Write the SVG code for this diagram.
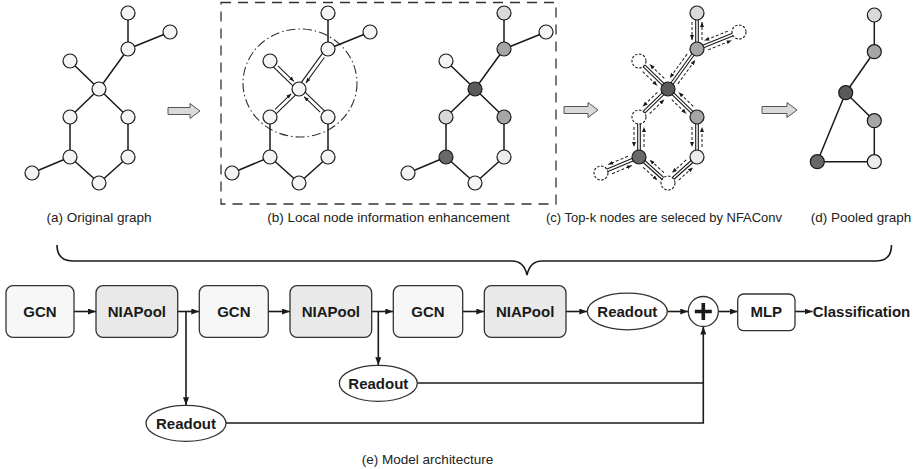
<svg xmlns="http://www.w3.org/2000/svg" width="919" height="469" viewBox="0 0 919 469">
<defs>
<style>
.e{stroke:#1a1a1a;stroke-width:1.5;fill:none}
.rl{stroke:#1a1a1a;stroke-width:1.1;fill:none}
.da{stroke:#1a1a1a;stroke-width:1;stroke-dasharray:3 2;fill:none}
.sa{stroke:#1a1a1a;stroke-width:1;fill:none}
.n{stroke:#1a1a1a;stroke-width:1.2}
.nd{stroke:#1a1a1a;stroke-width:1.1;stroke-dasharray:2.5 1.6;fill:#fff}
.w{fill:#f5f5f5}.l{fill:#d9d9d9}.m{fill:#a6a6a6}.dk{fill:#5a5a5a}.d2{fill:#686868}.vl{fill:#ececec}
.cap{font-family:"Liberation Sans",Arial,sans-serif;font-size:13.5px;fill:#222;text-anchor:middle}
.lb{font-family:"Liberation Sans",Arial,sans-serif;font-size:15px;font-weight:bold;fill:#1a1a1a;text-anchor:middle}
.box{stroke:#333;stroke-width:1.3}
.c{stroke:#1a1a1a;stroke-width:1.6;fill:none}
.blk{fill:#d9d9d9;stroke:#555;stroke-width:1}
</style>
<marker id="ah" markerUnits="userSpaceOnUse" markerWidth="8" markerHeight="6" refX="8" refY="3" orient="auto"><path d="M0,0 L8,3 L0,6 z" fill="#1a1a1a"/></marker>
<marker id="sm" markerUnits="userSpaceOnUse" markerWidth="5" markerHeight="4" refX="5" refY="2" orient="auto"><path d="M0,0 L5,2 L0,4 z" fill="#1a1a1a"/></marker>
</defs>
<rect width="919" height="469" fill="#fff"/>

<!-- (a) Original graph -->
<g id="graph-a">
<g class="e">
<line x1="128" y1="13" x2="128" y2="49"/><line x1="170" y1="32" x2="128" y2="49"/><line x1="128" y1="49" x2="99" y2="89"/>
<line x1="70" y1="61" x2="99" y2="89"/><line x1="99" y1="89" x2="70" y2="117"/><line x1="99" y1="89" x2="128" y2="117"/>
<line x1="70" y1="117" x2="70" y2="157"/><line x1="128" y1="117" x2="128" y2="157"/><line x1="70" y1="157" x2="99" y2="183"/>
<line x1="128" y1="157" x2="99" y2="183"/><line x1="70" y1="157" x2="32" y2="173"/>
</g>
<g class="n w">
<circle id="a-t" cx="128" cy="13" r="7"/><circle id="a-r" cx="170" cy="32" r="7"/><circle id="a-u" cx="128" cy="49" r="7"/>
<circle id="a-lf" cx="70" cy="61" r="7"/><circle id="a-c" cx="99" cy="89" r="7"/><circle id="a-lm" cx="70" cy="117" r="7"/>
<circle id="a-rm" cx="128" cy="117" r="7"/><circle id="a-ll" cx="70" cy="157" r="7"/><circle id="a-rl" cx="128" cy="157" r="7"/>
<circle id="a-b" cx="99" cy="183" r="7"/><circle id="a-fl" cx="32" cy="173" r="7"/>
</g>
</g>

<!-- block arrows -->
<path class="blk" d="M168,107.5 H190 V103.5 L200,111 L190,118.5 V114.5 H168 Z"/>
<path class="blk" d="M564,106.5 H588 V102.5 L598,110 L588,117.5 V113.5 H564 Z"/>
<path class="blk" d="M762,106.5 H787 V102.5 L797,110 L787,117.5 V113.5 H762 Z"/>

<!-- (b) frame -->
<rect x="221" y="2.5" width="335" height="201.5" fill="none" stroke="#333" stroke-width="1.3" stroke-dasharray="10 7"/>
<ellipse cx="300" cy="83" rx="57" ry="54" fill="none" stroke="#333" stroke-width="1.1" stroke-dasharray="9 3 1.5 3"/>

<!-- (b) left graph -->
<g id="graph-b1" transform="translate(200,0)">
<g class="e">
<line x1="128" y1="13" x2="128" y2="49"/><line x1="170" y1="32" x2="128" y2="49"/>
<line x1="70" y1="117" x2="70" y2="157"/><line x1="128" y1="117" x2="128" y2="157"/><line x1="70" y1="157" x2="99" y2="183"/>
<line x1="128" y1="157" x2="99" y2="183"/><line x1="70" y1="157" x2="32" y2="173"/>
</g>
<g transform="translate(70,61) rotate(43.99)"><line class="rl" x1="0" y1="2" x2="40.3" y2="2"/><line class="sa" x1="9" y1="-2" x2="31.3" y2="-2" marker-end="url(#sm)"/></g>
<g transform="translate(128,49) rotate(125.94)"><line class="rl" x1="0" y1="2" x2="49.4" y2="2"/><line class="sa" x1="9" y1="-2" x2="40.4" y2="-2" marker-end="url(#sm)"/></g>
<g transform="translate(70,117) rotate(-43.99)"><line class="rl" x1="0" y1="2" x2="40.3" y2="2"/><line class="sa" x1="9" y1="-2" x2="31.3" y2="-2" marker-end="url(#sm)"/></g>
<g transform="translate(128,117) rotate(-136.01)"><line class="rl" x1="0" y1="2" x2="40.3" y2="2"/><line class="sa" x1="9" y1="-2" x2="31.3" y2="-2" marker-end="url(#sm)"/></g>
<g class="n w">
<circle id="b1-t" cx="128" cy="13" r="7"/><circle id="b1-r" cx="170" cy="32" r="7"/><circle id="b1-u" cx="128" cy="49" r="7"/>
<circle id="b1-lf" cx="70" cy="61" r="7"/><circle id="b1-c" cx="99" cy="89" r="7"/><circle id="b1-lm" cx="70" cy="117" r="7"/>
<circle id="b1-rm" cx="128" cy="117" r="7"/><circle id="b1-ll" cx="70" cy="157" r="7"/><circle id="b1-rl" cx="128" cy="157" r="7"/>
<circle id="b1-b" cx="99" cy="183" r="7"/><circle id="b1-fl" cx="32" cy="173" r="7"/>
</g>
</g>

<!-- (b) right graph -->
<g id="graph-b2" transform="translate(376,0)">
<g class="e">
<line x1="128" y1="13" x2="128" y2="49"/><line x1="170" y1="32" x2="128" y2="49"/><line x1="128" y1="49" x2="99" y2="89"/>
<line x1="70" y1="61" x2="99" y2="89"/><line x1="99" y1="89" x2="70" y2="117"/><line x1="99" y1="89" x2="128" y2="117"/>
<line x1="70" y1="117" x2="70" y2="157"/><line x1="128" y1="117" x2="128" y2="157"/><line x1="70" y1="157" x2="99" y2="183"/>
<line x1="128" y1="157" x2="99" y2="183"/><line x1="70" y1="157" x2="32" y2="173"/>
</g>
<g class="n">
<circle id="b2-t" class="l" cx="128" cy="13" r="7"/><circle id="b2-r" class="w" cx="170" cy="32" r="7"/><circle id="b2-u" class="m" cx="128" cy="49" r="7"/>
<circle id="b2-lf" class="w" cx="70" cy="61" r="7"/><circle id="b2-c" class="dk" cx="99" cy="89" r="7"/><circle id="b2-lm" class="l" cx="70" cy="117" r="7"/>
<circle id="b2-rm" class="m" cx="128" cy="117" r="7"/><circle id="b2-ll" class="d2" cx="70" cy="157" r="7"/><circle id="b2-rl" class="vl" cx="128" cy="157" r="7"/>
<circle id="b2-b" class="w" cx="99" cy="183" r="7"/><circle id="b2-fl" class="w" cx="32" cy="173" r="7"/>
</g>
</g>

<!-- (c) graph -->
<g id="graph-c" transform="translate(569,0)">
<g transform="translate(128,13) rotate(90)"><line class="rl" x1="0" y1="-1.3" x2="36" y2="-1.3"/><line class="rl" x1="0" y1="1.3" x2="36" y2="1.3"/><line class="da" x1="9" y1="5" x2="27" y2="5" marker-end="url(#sm)"/><line class="da" x1="27" y1="-5" x2="9" y2="-5" marker-end="url(#sm)"/></g>
<g transform="translate(170,32) rotate(157.96)"><line class="rl" x1="0" y1="-1.3" x2="45.3" y2="-1.3"/><line class="rl" x1="0" y1="1.3" x2="45.3" y2="1.3"/><line class="da" x1="10" y1="5" x2="35.3" y2="5" marker-end="url(#sm)"/><line class="da" x1="35.3" y1="-5" x2="10" y2="-5" marker-end="url(#sm)"/></g>
<g transform="translate(128,49) rotate(125.94)"><line class="rl" x1="0" y1="-1.3" x2="49.4" y2="-1.3"/><line class="rl" x1="0" y1="1.3" x2="49.4" y2="1.3"/><line class="da" x1="10" y1="5" x2="39.4" y2="5" marker-end="url(#sm)"/><line class="da" x1="39.4" y1="-5" x2="10" y2="-5" marker-end="url(#sm)"/></g>
<g transform="translate(70,61) rotate(43.99)"><line class="rl" x1="0" y1="-1.3" x2="40.3" y2="-1.3"/><line class="rl" x1="0" y1="1.3" x2="40.3" y2="1.3"/><line class="da" x1="10" y1="5" x2="30.3" y2="5" marker-end="url(#sm)"/><line class="da" x1="30.3" y1="-5" x2="10" y2="-5" marker-end="url(#sm)"/></g>
<g transform="translate(99,89) rotate(136.01)"><line class="rl" x1="0" y1="-1.3" x2="40.3" y2="-1.3"/><line class="rl" x1="0" y1="1.3" x2="40.3" y2="1.3"/><line class="da" x1="10" y1="5" x2="30.3" y2="5" marker-end="url(#sm)"/><line class="da" x1="30.3" y1="-5" x2="10" y2="-5" marker-end="url(#sm)"/></g>
<g transform="translate(99,89) rotate(43.99)"><line class="rl" x1="0" y1="-1.3" x2="40.3" y2="-1.3"/><line class="rl" x1="0" y1="1.3" x2="40.3" y2="1.3"/><line class="da" x1="10" y1="5" x2="30.3" y2="5" marker-end="url(#sm)"/><line class="da" x1="30.3" y1="-5" x2="10" y2="-5" marker-end="url(#sm)"/></g>
<g transform="translate(70,117) rotate(90)"><line class="rl" x1="0" y1="-1.3" x2="40" y2="-1.3"/><line class="rl" x1="0" y1="1.3" x2="40" y2="1.3"/><line class="da" x1="10" y1="5" x2="30" y2="5" marker-end="url(#sm)"/><line class="da" x1="30" y1="-5" x2="10" y2="-5" marker-end="url(#sm)"/></g>
<g transform="translate(128,117) rotate(90)"><line class="rl" x1="0" y1="-1.3" x2="40" y2="-1.3"/><line class="rl" x1="0" y1="1.3" x2="40" y2="1.3"/><line class="da" x1="10" y1="5" x2="30" y2="5" marker-end="url(#sm)"/><line class="da" x1="30" y1="-5" x2="10" y2="-5" marker-end="url(#sm)"/></g>
<g transform="translate(70,157) rotate(41.88)"><line class="rl" x1="0" y1="-1.3" x2="39" y2="-1.3"/><line class="rl" x1="0" y1="1.3" x2="39" y2="1.3"/><line class="da" x1="10" y1="5" x2="29" y2="5" marker-end="url(#sm)"/><line class="da" x1="29" y1="-5" x2="10" y2="-5" marker-end="url(#sm)"/></g>
<g transform="translate(128,157) rotate(138.12)"><line class="rl" x1="0" y1="-1.3" x2="39" y2="-1.3"/><line class="rl" x1="0" y1="1.3" x2="39" y2="1.3"/><line class="da" x1="10" y1="5" x2="29" y2="5" marker-end="url(#sm)"/><line class="da" x1="29" y1="-5" x2="10" y2="-5" marker-end="url(#sm)"/></g>
<g transform="translate(70,157) rotate(157.17)"><line class="rl" x1="0" y1="-1.3" x2="41.2" y2="-1.3"/><line class="rl" x1="0" y1="1.3" x2="41.2" y2="1.3"/><line class="da" x1="10" y1="5" x2="31.2" y2="5" marker-end="url(#sm)"/><line class="da" x1="31.2" y1="-5" x2="10" y2="-5" marker-end="url(#sm)"/></g>
<g class="n">
<circle id="c-t" class="l" cx="128" cy="13" r="7"/><circle id="c-u" class="m" cx="128" cy="49" r="7"/>
<circle id="c-c" class="dk" cx="99" cy="89" r="7"/>
<circle id="c-rm" class="m" cx="128" cy="117" r="7"/><circle id="c-ll" class="d2" cx="70" cy="157" r="7"/><circle id="c-rl" class="vl" cx="128" cy="157" r="7"/>
</g>
<circle id="c-r" class="nd" cx="170" cy="32" r="7"/><circle id="c-lf" class="nd" cx="70" cy="61" r="7"/><circle id="c-lm" class="nd" cx="70" cy="117" r="7"/>
<circle id="c-b" class="nd" cx="99" cy="183" r="7"/><circle id="c-fl" class="nd" cx="32" cy="173" r="7"/>
</g>

<!-- (d) pooled graph -->
<g id="graph-d">
<g class="e">
<line x1="874.3" y1="15" x2="874.3" y2="51.7"/><line x1="874.3" y1="51.7" x2="845.7" y2="92.7"/><line x1="845.7" y1="92.7" x2="874.3" y2="120.7"/>
<line x1="874.3" y1="120.7" x2="874.3" y2="161.7"/><line x1="817.3" y1="161.7" x2="874.3" y2="161.7"/><line x1="845.7" y1="92.7" x2="817.3" y2="161.7"/>
</g>
<g class="n">
<circle id="d-t" class="l" cx="874.3" cy="15" r="7"/><circle id="d-u" class="m" cx="874.3" cy="51.7" r="7"/><circle id="d-c" class="dk" cx="845.7" cy="92.7" r="7"/>
<circle id="d-rm" class="m" cx="874.3" cy="120.7" r="7"/><circle id="d-bl" class="d2" cx="817.3" cy="161.7" r="7"/><circle id="d-br" class="vl" cx="874.3" cy="161.7" r="7"/>
</g>
</g>

<!-- captions -->
<text class="cap" x="99" y="222">(a) Original graph</text>
<text class="cap" x="388.5" y="222">(b) Local node information enhancement</text>
<text class="cap" x="664" y="222" textLength="236" lengthAdjust="spacingAndGlyphs">(c) Top-k nodes are seleced by NFAConv</text>
<text class="cap" x="861" y="222">(d) Pooled graph</text>
<text class="cap" x="427.5" y="464">(e) Model architecture</text>

<!-- brace -->
<path class="c" d="M57,245 Q57,261 73,261 H512 Q524,261 527,275 Q530,261 542,261 H876 Q891.5,261 891.5,245" stroke-width="1.5"/>

<!-- connectors -->
<g id="connectors">
<line class="c" x1="74" y1="311.5" x2="96" y2="311.5" marker-end="url(#ah)"/>
<line class="c" x1="177.7" y1="311.5" x2="199.3" y2="311.5" marker-end="url(#ah)"/>
<line class="c" x1="268.3" y1="311.5" x2="290" y2="311.5" marker-end="url(#ah)"/>
<line class="c" x1="371.7" y1="311.5" x2="393.3" y2="311.5" marker-end="url(#ah)"/>
<line class="c" x1="462.7" y1="311.5" x2="484.3" y2="311.5" marker-end="url(#ah)"/>
<line class="c" x1="566" y1="311.5" x2="587.3" y2="311.5" marker-end="url(#ah)"/>
<line class="c" x1="667.3" y1="311.5" x2="688.3" y2="311.5" marker-end="url(#ah)"/>
<line class="c" x1="718.3" y1="311.5" x2="737.7" y2="311.5" marker-end="url(#ah)"/>
<line class="c" x1="795" y1="311.5" x2="812.5" y2="311.5" marker-end="url(#ah)"/>
<line class="c" x1="186" y1="311.5" x2="186" y2="405.3" marker-end="url(#ah)"/>
<line class="c" x1="378.3" y1="311.5" x2="378.3" y2="365.3" marker-end="url(#ah)"/>
<line class="c" x1="417.3" y1="383" x2="703.3" y2="383"/>
<path class="c" d="M226,423 H703.3 V326.5" marker-end="url(#ah)"/>
</g>

<!-- pipeline nodes -->
<g id="gcn1"><rect class="box" x="6" y="285.7" width="68" height="51.6" rx="7" fill="#f7f7f7"/><text class="lb" x="40" y="317">GCN</text></g>
<g id="niapool1"><rect class="box" x="96" y="285.7" width="81.7" height="51.6" rx="7" fill="#e8e9e8"/><text class="lb" x="136.8" y="317">NIAPool</text></g>
<g id="gcn2"><rect class="box" x="199.3" y="285.7" width="69" height="51.6" rx="7" fill="#f7f7f7"/><text class="lb" x="233.8" y="317">GCN</text></g>
<g id="niapool2"><rect class="box" x="290" y="285.7" width="81.7" height="51.6" rx="7" fill="#e8e9e8"/><text class="lb" x="330.8" y="317">NIAPool</text></g>
<g id="gcn3"><rect class="box" x="393.3" y="285.7" width="69.4" height="51.6" rx="7" fill="#f7f7f7"/><text class="lb" x="428" y="317">GCN</text></g>
<g id="niapool3"><rect class="box" x="484.3" y="285.7" width="81.7" height="51.6" rx="7" fill="#e8e9e8"/><text class="lb" x="525.2" y="317">NIAPool</text></g>
<g id="readout3"><ellipse class="box" cx="627.3" cy="311.5" rx="40" ry="18.3" fill="#fff"/><text class="lb" x="627.3" y="317">Readout</text></g>
<g id="sum"><circle class="box" cx="703.3" cy="311.5" r="15" fill="#fff"/><path d="M694.8,311.5 H711.8 M703.3,303 V320" stroke="#1a1a1a" stroke-width="3.6"/></g>
<g id="mlp"><rect class="box" x="737.7" y="294" width="57.3" height="36.7" rx="6" fill="#fff"/><text class="lb" x="766.3" y="317">MLP</text></g>
<g id="classification"><text class="lb" x="861.5" y="317">Classification</text></g>
<g id="readout2"><ellipse class="box" cx="378.3" cy="383.3" rx="39" ry="18" fill="#fff"/><text class="lb" x="378.3" y="388.8">Readout</text></g>
<g id="readout1"><ellipse class="box" cx="186" cy="423.3" rx="40" ry="18" fill="#fff"/><text class="lb" x="186" y="428.8">Readout</text></g>
</svg>
